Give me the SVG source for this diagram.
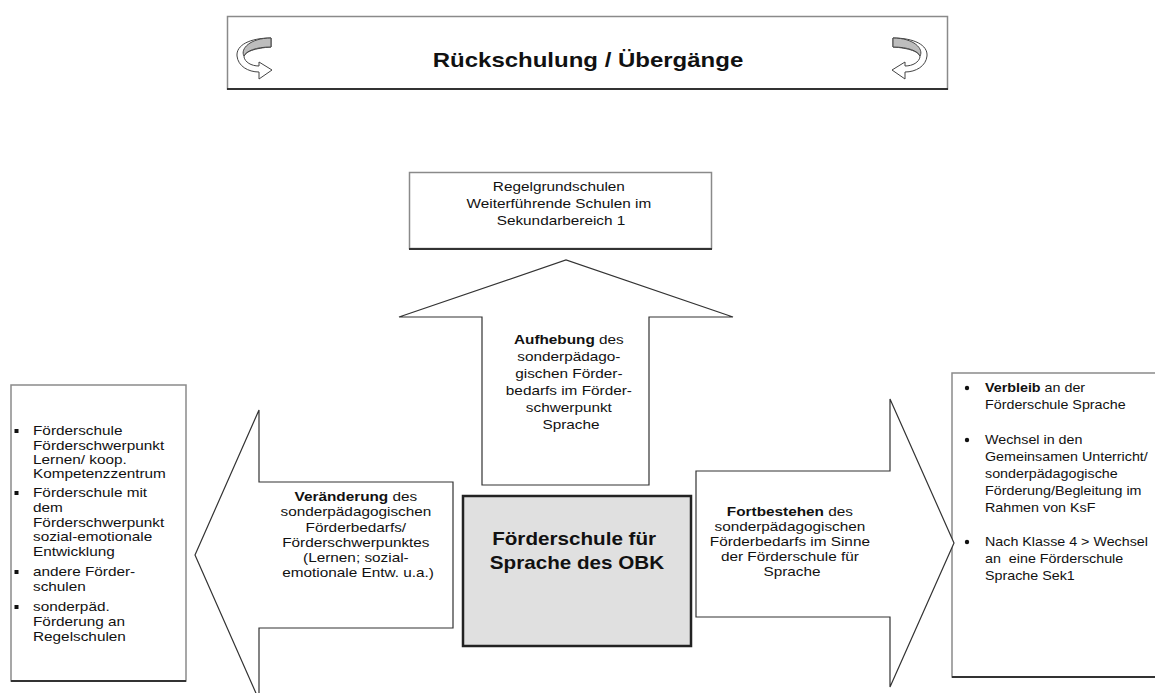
<svg xmlns="http://www.w3.org/2000/svg" width="1155" height="693" viewBox="0 0 1155 693">
<style>
  text { font-family: "Liberation Sans", Arial, sans-serif; fill: #111; }
  .t13 { font-size: 13px; }
  .b { font-weight: bold; }
  .box { fill: #fff; stroke: #8a8a8a; stroke-width: 1.5; }
  .shadow { stroke: #333; stroke-width: 2; fill: none; }
  .blk { fill: #fff; stroke: #333; stroke-width: 1.2; stroke-linejoin: miter; }
  .curl { fill: #fff; stroke: #444; stroke-width: 1; }
  .curltop { fill: #bdbdbd; stroke: #444; stroke-width: 1; }
</style>
<defs>
  <g id="curl">
    <path class="curl" d="M 271 38 C 250 38 236 45 237 56 C 238 66 248 72 259 72 L 259 79 L 272 70 L 259 62 L 259 66 C 251 66 245 62 244 57 C 244 52 255 48 271 47 Z"/>
    <path class="curltop" d="M 271 38 L 271 47 C 256 47 246 51 244 56 C 240 49 250 38 271 38 Z"/>
  </g>
</defs>
<rect width="1155" height="693" fill="#fff"/>

<g id="title">
  <rect class="box" x="227.5" y="16.5" width="720" height="72.5"/>
  <line class="shadow" x1="227" y1="89" x2="948" y2="89"/>
  <use href="#curl"/>
  <use href="#curl" transform="translate(1164 0) scale(-1 1)"/>
  <text class="b" font-size="20" transform="translate(588 0) scale(1.2 1)" x="0" y="67" text-anchor="middle">Rückschulung / Übergänge</text>
</g>

<g id="regelschulen">
  <rect class="box" x="409.5" y="172.5" width="302" height="76"/>
  <line class="shadow" x1="409" y1="249" x2="712" y2="249"/>
  <text class="t13" transform="translate(561 0) scale(1.18 1)" text-anchor="middle">
    <tspan x="0" y="191.5">Regelgrundschulen</tspan>
    <tspan x="0" y="208.5">Weiterführende Schulen im</tspan>
    <tspan x="0" y="225.5">Sekundarbereich 1</tspan>
  </text>
</g>

<g id="left-list">
  <rect class="box" x="11" y="385" width="175" height="296"/>
  <line class="shadow" x1="11" y1="681" x2="186" y2="681" stroke="#555"/>
  <g fill="#111">
    <rect x="14.5" y="429" width="4" height="4"/>
    <rect x="14.5" y="491" width="4" height="4"/>
    <rect x="14.5" y="570" width="4" height="4"/>
    <rect x="14.5" y="605" width="4" height="4"/>
  </g>
  <text class="t13" transform="translate(33 0) scale(1.18 1)">
    <tspan x="0" y="435.5">Förderschule</tspan>
    <tspan x="0" y="450">Förderschwerpunkt</tspan>
    <tspan x="0" y="464.5">Lernen/ koop.</tspan>
    <tspan x="0" y="478">Kompetenzzentrum</tspan>
    <tspan x="0" y="497.5">Förderschule mit</tspan>
    <tspan x="0" y="512.5">dem</tspan>
    <tspan x="0" y="527">Förderschwerpunkt</tspan>
    <tspan x="0" y="541.5">sozial-emotionale</tspan>
    <tspan x="0" y="556.5">Entwicklung</tspan>
    <tspan x="0" y="576.5">andere Förder-</tspan>
    <tspan x="0" y="591.5">schulen</tspan>
    <tspan x="0" y="611.5">sonderpäd.</tspan>
    <tspan x="0" y="626.5">Förderung an</tspan>
    <tspan x="0" y="641.5">Regelschulen</tspan>
  </text>
</g>

<g id="right-list">
  <rect class="box" x="952" y="373" width="210" height="304"/>
  <line class="shadow" x1="952" y1="677" x2="1160" y2="677" stroke="#555"/>
  <g fill="#111">
    <circle cx="967" cy="388" r="2.2"/>
    <circle cx="967" cy="440" r="2.2"/>
    <circle cx="967" cy="542" r="2.2"/>
  </g>
  <text class="t13" transform="translate(985 0) scale(1.1 1)">
    <tspan x="0" y="392.5"><tspan class="b">Verbleib</tspan> an der</tspan>
    <tspan x="0" y="409.5">Förderschule Sprache</tspan>
    <tspan x="0" y="444.5">Wechsel in den</tspan>
    <tspan x="0" y="461.5">Gemeinsamen Unterricht/</tspan>
    <tspan x="0" y="478.5">sonderpädagogische</tspan>
    <tspan x="0" y="495.5">Förderung/Begleitung im</tspan>
    <tspan x="0" y="512.5">Rahmen von KsF</tspan>
    <tspan x="0" y="546.5">Nach Klasse 4 &gt; Wechsel</tspan>
    <tspan x="0" y="563.5">an&#160; eine Förderschule</tspan>
    <tspan x="0" y="580.5">Sprache Sek1</tspan>
  </text>
</g>

<g id="center">
  <rect x="463" y="496" width="228" height="150" fill="#e0e0e0" stroke="#222" stroke-width="2.5"/>
  <text class="b" font-size="17.5" transform="translate(577 0) scale(1.18 1)" text-anchor="middle">
    <tspan x="0" y="545">Förderschule für</tspan>
    <tspan x="0" y="569">Sprache des OBK</tspan>
  </text>
</g>

<g id="connectors">
  <g id="arrow-up">
    <polygon class="blk" points="482,485 482,317 399,317 566,260 733,317 649,317 649,485"/>
    <text class="t13" transform="translate(571 0) scale(1.18 1)" text-anchor="middle">
      <tspan x="0" y="344.5"><tspan class="b">Aufhebung</tspan> des</tspan>
      <tspan x="0" y="361.5">sonderpädago-</tspan>
      <tspan x="0" y="378">gischen Förder-</tspan>
      <tspan x="0" y="395">bedarfs im Förder-</tspan>
      <tspan x="0" y="412.5">schwerpunkt</tspan>
      <tspan x="0" y="429.5">Sprache</tspan>
    </text>
  </g>
  <g id="arrow-left">
    <polygon class="blk" points="453,482 259,482 259,410 195,555 259,700 259,628 453,628"/>
    <text class="t13" transform="translate(358 0) scale(1.18 1)" text-anchor="middle">
      <tspan x="0" y="501.5"><tspan class="b">Veränderung</tspan> des</tspan>
      <tspan x="0" y="516.5">sonderpädagogischen</tspan>
      <tspan x="0" y="532">Förderbedarfs/</tspan>
      <tspan x="0" y="547">Förderschwerpunktes</tspan>
      <tspan x="0" y="562.5">(Lernen; sozial-</tspan>
      <tspan x="0" y="577.5">emotionale Entw. u.a.)</tspan>
    </text>
  </g>
  <g id="arrow-right">
    <polygon class="blk" points="696,471 890,471 890,399 954,543 890,687 890,617 696,617"/>
    <text class="t13" transform="translate(792 0) scale(1.18 1)" text-anchor="middle">
      <tspan x="0" y="516.5"><tspan class="b">Fortbestehen</tspan> des</tspan>
      <tspan x="0" y="531.5">sonderpädagogischen</tspan>
      <tspan x="0" y="546.5">Förderbedarfs im Sinne</tspan>
      <tspan x="0" y="561.5">der Förderschule für</tspan>
      <tspan x="0" y="576.5">Sprache</tspan>
    </text>
  </g>
</g>
</svg>
